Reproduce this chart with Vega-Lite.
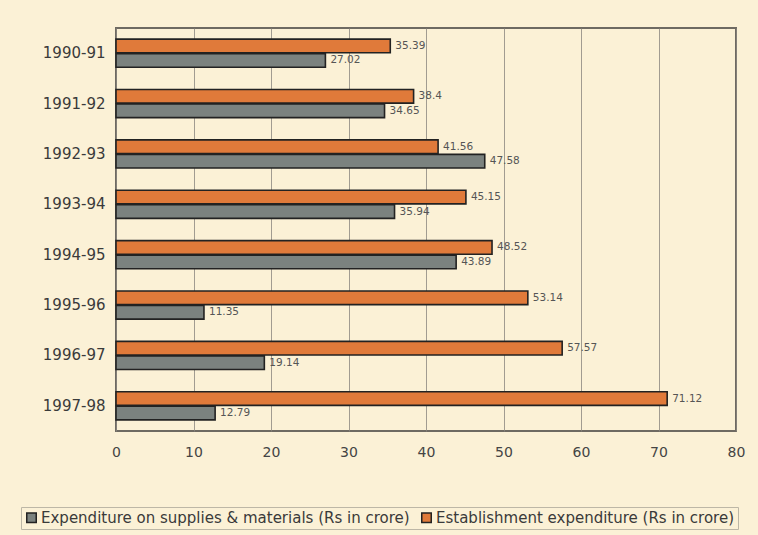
{
  "$schema": "https://vega.github.io/schema/vega-lite/v6.json",
  "width": 620,
  "height": 403,
  "autosize": {"type": "none"},
  "padding": {"left": 116, "top": 28, "right": 22, "bottom": 104},
  "background": "#FBF1D6",
  "config": {
    "font": "DejaVu Sans",
    "view": {"stroke": "#6e6a62", "strokeWidth": 2, "fill": "#FBF1D6"}
  },
  "data": {
    "values": [
      {"year": "1990-91", "series": "Establishment expenditure (Rs in crore)", "value": 35.39},
      {"year": "1990-91", "series": "Expenditure on supplies & materials (Rs in crore)", "value": 27.02},
      {"year": "1991-92", "series": "Establishment expenditure (Rs in crore)", "value": 38.4},
      {"year": "1991-92", "series": "Expenditure on supplies & materials (Rs in crore)", "value": 34.65},
      {"year": "1992-93", "series": "Establishment expenditure (Rs in crore)", "value": 41.56},
      {"year": "1992-93", "series": "Expenditure on supplies & materials (Rs in crore)", "value": 47.58},
      {"year": "1993-94", "series": "Establishment expenditure (Rs in crore)", "value": 45.15},
      {"year": "1993-94", "series": "Expenditure on supplies & materials (Rs in crore)", "value": 35.94},
      {"year": "1994-95", "series": "Establishment expenditure (Rs in crore)", "value": 48.52},
      {"year": "1994-95", "series": "Expenditure on supplies & materials (Rs in crore)", "value": 43.89},
      {"year": "1995-96", "series": "Establishment expenditure (Rs in crore)", "value": 53.14},
      {"year": "1995-96", "series": "Expenditure on supplies & materials (Rs in crore)", "value": 11.35},
      {"year": "1996-97", "series": "Establishment expenditure (Rs in crore)", "value": 57.57},
      {"year": "1996-97", "series": "Expenditure on supplies & materials (Rs in crore)", "value": 19.14},
      {"year": "1997-98", "series": "Establishment expenditure (Rs in crore)", "value": 71.12},
      {"year": "1997-98", "series": "Expenditure on supplies & materials (Rs in crore)", "value": 12.79}
    ]
  },
  "encoding": {
    "y": {
      "field": "year",
      "type": "nominal",
      "scale": {"paddingInner": 0.44, "paddingOuter": 0.22},
      "axis": {
        "title": null,
        "domain": false,
        "ticks": false,
        "labelFontSize": 15,
        "labelColor": "#3a3a3a",
        "labelPadding": 11
      }
    },
    "yOffset": {
      "field": "series",
      "type": "nominal",
      "sort": ["Establishment expenditure (Rs in crore)", "Expenditure on supplies & materials (Rs in crore)"],
      "scale": {"paddingInner": 0.06}
    },
    "x": {
      "field": "value",
      "type": "quantitative",
      "scale": {"domain": [0, 80], "nice": false},
      "axis": {
        "title": null,
        "values": [0, 10, 20, 30, 40, 50, 60, 70, 80],
        "labelOverlap": false,
        "domain": false,
        "ticks": false,
        "grid": true,
        "gridColor": "#8a877f",
        "gridWidth": 0.8,
        "labelFontSize": 14,
        "labelColor": "#444444",
        "labelPadding": 14,
        "labelFlush": false
      }
    }
  },
  "layer": [
    {
      "mark": {"type": "bar", "stroke": "#222222", "strokeWidth": 1.6},
      "encoding": {
        "color": {
          "field": "series",
          "type": "nominal",
          "scale": {
            "domain": ["Expenditure on supplies & materials (Rs in crore)", "Establishment expenditure (Rs in crore)"],
            "range": ["#7B827F", "#E07A3A"]
          },
          "legend": {
            "title": null,
            "orient": "none",
            "direction": "horizontal",
            "legendX": -95,
            "legendY": 479,
            "symbolType": "square",
            "symbolSize": 90,
            "symbolStrokeColor": "#222222",
            "symbolStrokeWidth": 1.5,
            "labelFontSize": 15,
            "labelColor": "#3a3a3a",
            "labelLimit": 500,
            "symbolOffset": 0,
            "labelOffset": 2,
            "columnPadding": 8,
            "padding": 3,
            "strokeColor": "#bdb7a6",
            "fillColor": "#FBF1D6"
          }
        }
      }
    },
    {
      "mark": {"type": "text", "align": "left", "baseline": "middle", "dx": 5, "fontSize": 10.5, "color": "#555555"},
      "encoding": {
        "text": {"field": "value", "type": "quantitative", "format": ".2~f"}
      }
    }
  ]
}
